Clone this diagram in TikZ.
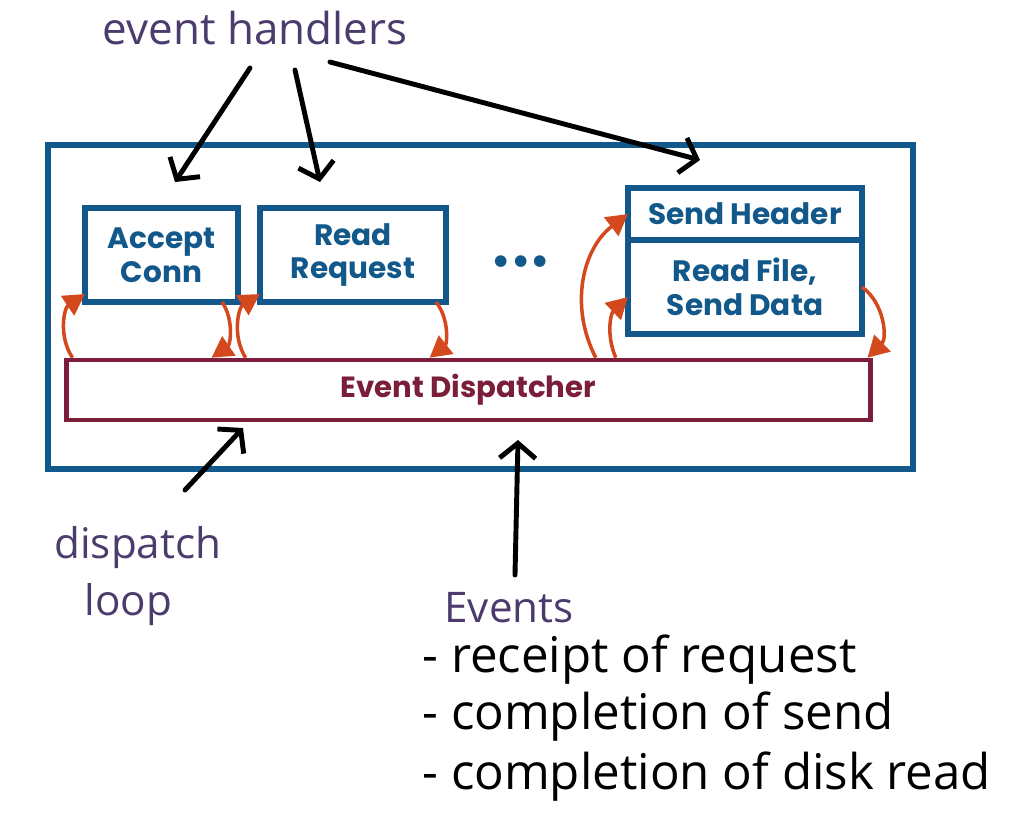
\documentclass[tikz,border=0pt]{standalone}
\usepackage{fontspec}
\usetikzlibrary{arrows.meta}
\usetikzlibrary{positioning}

\newfontfamily\boxfont{Poppins}
\newfontfamily\handfont{Open Sans}
\definecolor{boxblue}{RGB}{18,88,138}
\definecolor{dispred}{RGB}{122,30,58}
\definecolor{flow}{RGB}{212,72,30}
\definecolor{inkpurple}{RGB}{76,60,110}

\tikzset{
  handler/.style={draw=boxblue, line width=1.5pt, text=boxblue, outer sep=0pt, inner sep=0pt,
    font=\boxfont\bfseries\fontsize{8.4}{9.6}\selectfont, align=center},
  flowarrow/.style={draw=flow, line width=1pt, -{Triangle[length=2.1mm,width=2.3mm]}},
  pointer/.style={line width=1.4pt, line cap=round, -{Straight Barb[length=1.5mm,width=3.6mm]}},
  hand/.style={font=\handfont\fontsize{12}{14}\selectfont},
}

\begin{document}
\begin{tikzpicture}[x=0.01cm,y=-0.01cm]
\path[use as bounding box, fill=white] (0,0) rectangle (1026,820);

% server box and handlers
\node[draw=boxblue, line width=1.7pt, minimum width=8.65cm, minimum height=3.24cm] (outer) at (480.5,307) {};
\node[handler, minimum width=1.53cm, minimum height=0.94cm] (accept) at (161.5,255) {Accept\\Conn};
\node[handler, minimum width=1.86cm, minimum height=0.94cm] (readreq) at (353,255) {Read\\Request};
\node[text=boxblue, font=\boxfont\bfseries\fontsize{11}{11}\selectfont] (dots) at (521,265) {\textbullet\textbullet\textbullet};
\node[handler, minimum width=2.34cm, minimum height=0.52cm] (header) at (745,214) {Send Header};
\node[handler, minimum width=2.34cm, minimum height=0.94cm, below=0pt of header] (readfile) {Read File,\\Send Data};
\node[draw=dispred, line width=1.3pt, minimum width=8.03cm, minimum height=0.6cm, text=dispred,
  font=\boxfont\bfseries\fontsize{8.3}{9}\selectfont] (dispatcher) at (468.5,390) {Event Dispatcher};

% dispatch arrows
\draw[flowarrow] ([xshift=0.08cm]dispatcher.north west) to[bend left=45] ([yshift=0.08cm]accept.south west);
\draw[flowarrow] ([xshift=-0.16cm]accept.south east) to[bend left=45] ([xshift=1.47cm]dispatcher.north west);
\draw[flowarrow] ([xshift=1.81cm]dispatcher.north west) to[bend left=45] ([yshift=0.08cm]readreq.south west);
\draw[flowarrow] ([xshift=-0.1cm]readreq.south east) to[bend left=45] ([xshift=3.65cm]dispatcher.north west);
\draw[flowarrow] ([xshift=5.31cm]dispatcher.north west) to[bend left=40] (header.west);
\draw[flowarrow] ([xshift=5.51cm]dispatcher.north west) to[bend left=35] ([yshift=-0.1cm]readfile.west);
\draw[flowarrow] (readfile.east) to[bend left=50] ([xshift=-0.05cm]dispatcher.north east);

% handwritten notes
\node[hand, text=inkpurple, font=\handfont\fontsize{12.5}{14}\selectfont] (handlers) at (255,28) {event handlers};
\node[hand, text=inkpurple, anchor=west] (dispatch) at (42,548) {dispatch};
\node[hand, text=inkpurple, anchor=west] (loop) at (72,605) {loop};
\node[hand, text=inkpurple, anchor=west] (events) at (432,608) {Events};
\node[hand, anchor=west, font=\handfont\fontsize{14}{16}\selectfont] (ev1) at (410,660) {- receipt of request};
\node[hand, anchor=west, font=\handfont\fontsize{14}{16}\selectfont] (ev2) at (410,717) {- completion of send};
\node[hand, anchor=west, font=\handfont\fontsize{14}{16}\selectfont] (ev3) at (410,777) {- completion of disk read};

\coordinate (h1) at (250,68);
\coordinate (h1end) at (175,182);
\coordinate (h2) at (295,70);
\coordinate (h2end) at (320,182);
\coordinate (h3) at (330,62);
\coordinate (h3end) at (700,160);
\coordinate (loopstart) at (185,490);
\coordinate (loopend) at (243,428);
\coordinate (evstart) at (515,575);
\coordinate (evend) at (518,440);
\draw[pointer] (h1) -- (h1end);
\draw[pointer] (h2) -- (h2end);
\draw[pointer] (h3) -- (h3end);
\draw[pointer] (loopstart) -- (loopend);
\draw[pointer] (evstart) -- (evend);
\end{tikzpicture}
\end{document}
